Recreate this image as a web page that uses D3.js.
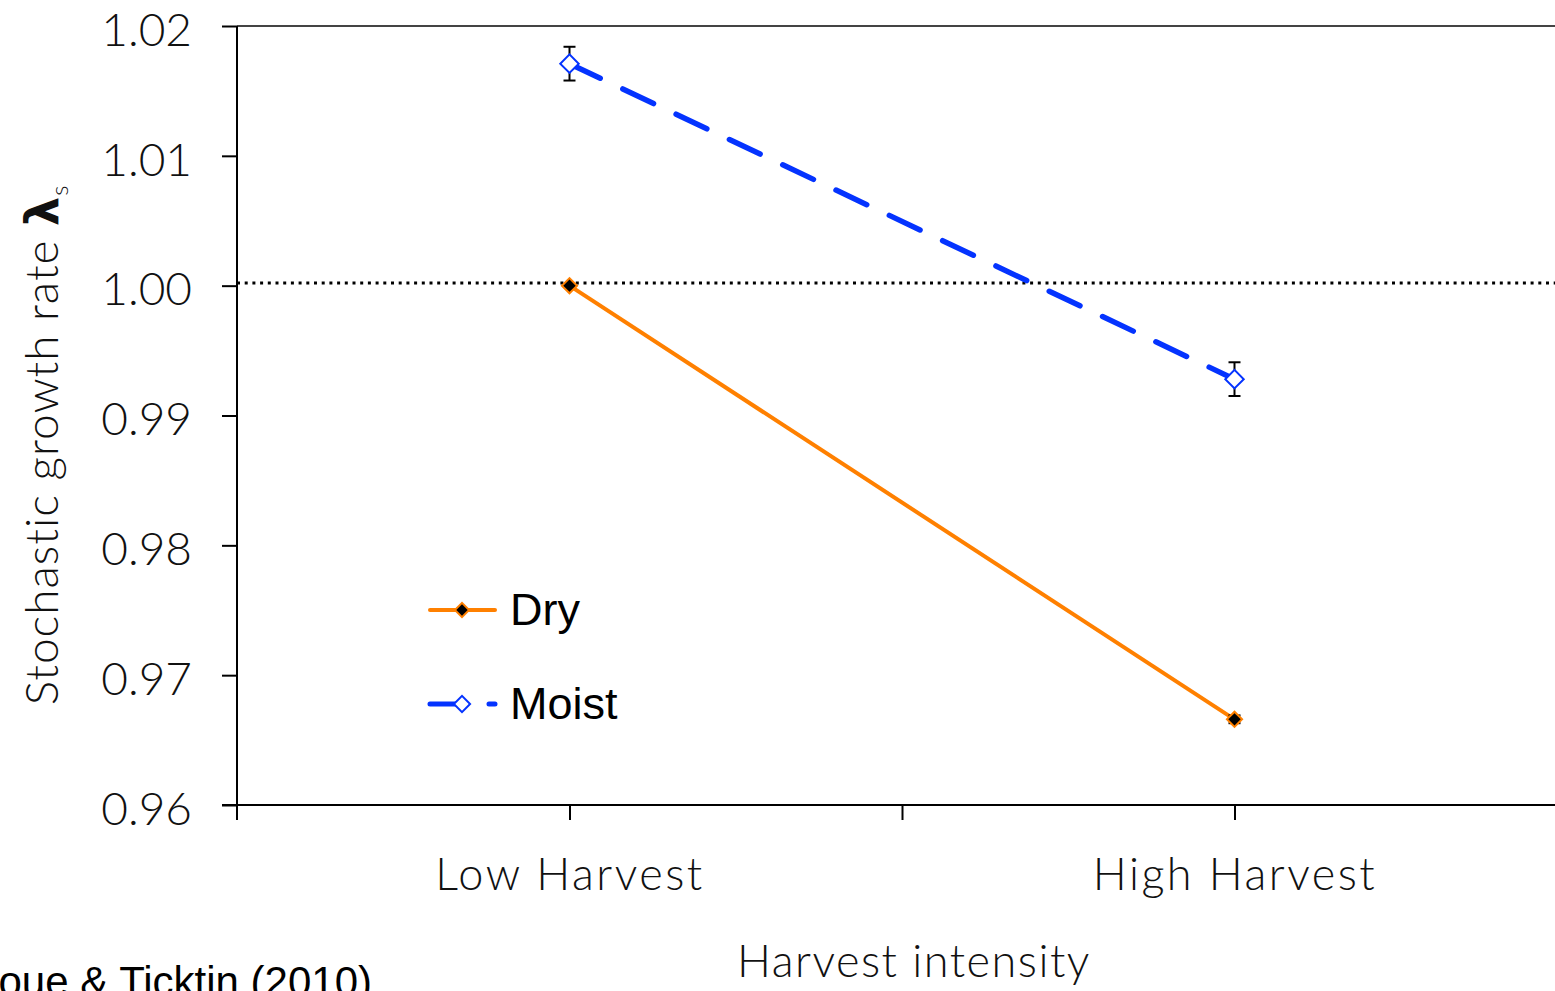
<!DOCTYPE html>
<html>
<head>
<meta charset="utf-8">
<script src="https://cdn.jsdelivr.net/npm/d3@7"></script>
<style>
  html, body { margin: 0; padding: 0; background: #fff; }
  svg { display: block; }
  .tick-label { font-family: Lato, "Open Sans", sans-serif; font-weight: 300; fill: #111; }
  .sans { font-family: "Liberation Sans", Arial, sans-serif; fill: #000; }
</style>
</head>
<body>
<svg id="chart" width="1555" height="991"></svg>
<script>
// Stochastic growth rate by harvest intensity, dry vs moist sites
const categories = ["Low Harvest", "High Harvest"];
const dryValues = [1.0000, 0.9666];
const dryErrors = [0.0000, 0.0003];
const moistValues = [1.0171, 0.9928];
const moistErrors = [0.0013, 0.0013];
const yTicks = [0.96, 0.97, 0.98, 0.99, 1.00, 1.01, 1.02];
const referenceLevel = 1.0002;

const svg = d3.select("#chart");

const plotLeft = 237, plotRight = 1567, plotTop = 26, plotBottom = 805;

// Category axis: one unit per category, ticks at band edges and centres
const x = d3.scaleLinear().domain([0, categories.length]).range([plotLeft, plotRight]);
const y = d3.scaleLinear().domain([0.96, 1.02]).range([plotBottom, plotTop]);
const cx = i => x(i + 0.5);

// Top frame line
svg.append("line")
  .attr("x1", plotLeft).attr("x2", 1555).attr("y1", y(1.02)).attr("y2", y(1.02))
  .attr("stroke", "#444").attr("stroke-width", 2);

// Y axis
const yAxis = svg.append("g")
  .attr("transform", `translate(${plotLeft},0)`)
  .call(d3.axisLeft(y).tickValues(yTicks).tickSize(15).tickPadding(30)
        .tickFormat(d3.format(".2f")));
yAxis.select(".domain").attr("stroke", "#000").attr("stroke-width", 2)
  .attr("d", `M0,${plotTop}V${plotBottom + 15}`);
yAxis.selectAll(".tick line").attr("stroke", "#000").attr("stroke-width", 2);
yAxis.selectAll(".tick text")
  .attr("class", "tick-label")
  .attr("font-size", 46)
  .attr("dy", "0.42em");

// X axis
const xTickVals = d3.range(0.5, categories.length + 0.01, 0.5);
const xAxis = svg.append("g")
  .attr("transform", `translate(0,${plotBottom})`)
  .call(d3.axisBottom(x).tickValues(xTickVals).tickSize(15).tickPadding(38)
        .tickFormat(d => (d % 1 === 0.5 ? categories[Math.floor(d)] : "")));
xAxis.select(".domain").attr("stroke", "#000").attr("stroke-width", 2)
  .attr("d", `M${plotLeft - 15},0H1555`);
xAxis.selectAll(".tick line").attr("stroke", "#000").attr("stroke-width", 2);
xAxis.selectAll(".tick text")
  .attr("class", "tick-label")
  .attr("font-size", 45)
  .attr("letter-spacing", 2.5);

// Reference line at lambda = 1
svg.append("line")
  .attr("x1", plotLeft).attr("x2", 1555)
  .attr("y1", y(referenceLevel)).attr("y2", y(referenceLevel))
  .attr("stroke", "#000").attr("stroke-width", 3)
  .attr("stroke-dasharray", "3,4.7");

const line = d3.line().x((d, i) => cx(i)).y(d => y(d));
const blue = "#0433ff", orange = "#ff8000";
const moistDash = "34,25";

// Dry series
svg.append("path").datum(dryValues)
  .attr("d", line).attr("fill", "none")
  .attr("stroke", orange).attr("stroke-width", 4);

// Moist series
svg.append("path").datum(moistValues)
  .attr("d", line).attr("fill", "none")
  .attr("stroke", blue).attr("stroke-width", 5.5)
  .attr("stroke-linecap", "round")
  .attr("stroke-dasharray", moistDash);

// Error bars
function errorBars(values, errors) {
  const g = svg.append("g").attr("stroke", "#000").attr("stroke-width", 2);
  values.forEach((v, i) => {
    const e = errors[i];
    if (!e) return;
    const X = cx(i), y0 = y(v + e), y1 = y(v - e);
    g.append("line").attr("x1", X).attr("x2", X).attr("y1", y0).attr("y2", y1);
    g.append("line").attr("x1", X - 6).attr("x2", X + 6).attr("y1", y0).attr("y2", y0);
    g.append("line").attr("x1", X - 6).attr("x2", X + 6).attr("y1", y1).attr("y2", y1);
  });
}
errorBars(dryValues, dryErrors);
errorBars(moistValues, moistErrors);

// Diamond markers
const diamond = d3.symbol().type(d3.symbolSquare);
function markers(values, size, fill, stroke, sw) {
  svg.append("g").selectAll("path").data(values).join("path")
    .attr("d", diamond.size(size))
    .attr("transform", (d, i) => `translate(${cx(i)},${y(d)}) rotate(45)`)
    .attr("fill", fill).attr("stroke", stroke).attr("stroke-width", sw);
}
markers(dryValues, 115, "#000", orange, 2);
markers(moistValues, 170, "#fff", blue, 2);

// Legend
const legend = [
  { name: "Dry", color: orange, dash: null, width: 4, fill: "#000", size: 100, y: 610 },
  { name: "Moist", color: blue, dash: moistDash, width: 5, fill: "#fff", size: 130, y: 704 }
];
legend.forEach(d => {
  const g = svg.append("g");
  g.append("line").attr("x1", 430).attr("x2", 495).attr("y1", d.y).attr("y2", d.y)
    .attr("stroke", d.color).attr("stroke-width", d.width)
    .attr("stroke-linecap", "round")
    .attr("stroke-dasharray", d.dash);
  g.append("path").attr("d", diamond.size(d.size))
    .attr("transform", `translate(462,${d.y}) rotate(45)`)
    .attr("fill", d.fill).attr("stroke", d.color).attr("stroke-width", 2);
  g.append("text").attr("class", "sans").attr("x", 510).attr("y", d.y + 15)
    .attr("font-size", 45).text(d.name);
});

// Axis titles
svg.append("text").attr("class", "tick-label")
  .attr("x", 914).attr("y", 977).attr("text-anchor", "middle")
  .attr("font-size", 45).attr("letter-spacing", 1.5).text("Harvest intensity");

const yTitle = svg.append("text").attr("class", "tick-label")
  .attr("transform", "translate(58,445) rotate(-90)")
  .attr("text-anchor", "middle").attr("font-size", 46).attr("letter-spacing", 1);
yTitle.append("tspan").text("Stochastic growth rate ");
yTitle.append("tspan").attr("font-weight", 700).attr("font-family", "DejaVu Sans").text("λ");
yTitle.append("tspan").attr("font-size", 24).attr("dy", 10).text("s");

// Source
svg.append("text").attr("class", "sans")
  .attr("x", 372).attr("y", 996).attr("text-anchor", "end")
  .attr("font-size", 42).text("Gaoue & Ticktin (2010)");
</script>
</body>
</html>
